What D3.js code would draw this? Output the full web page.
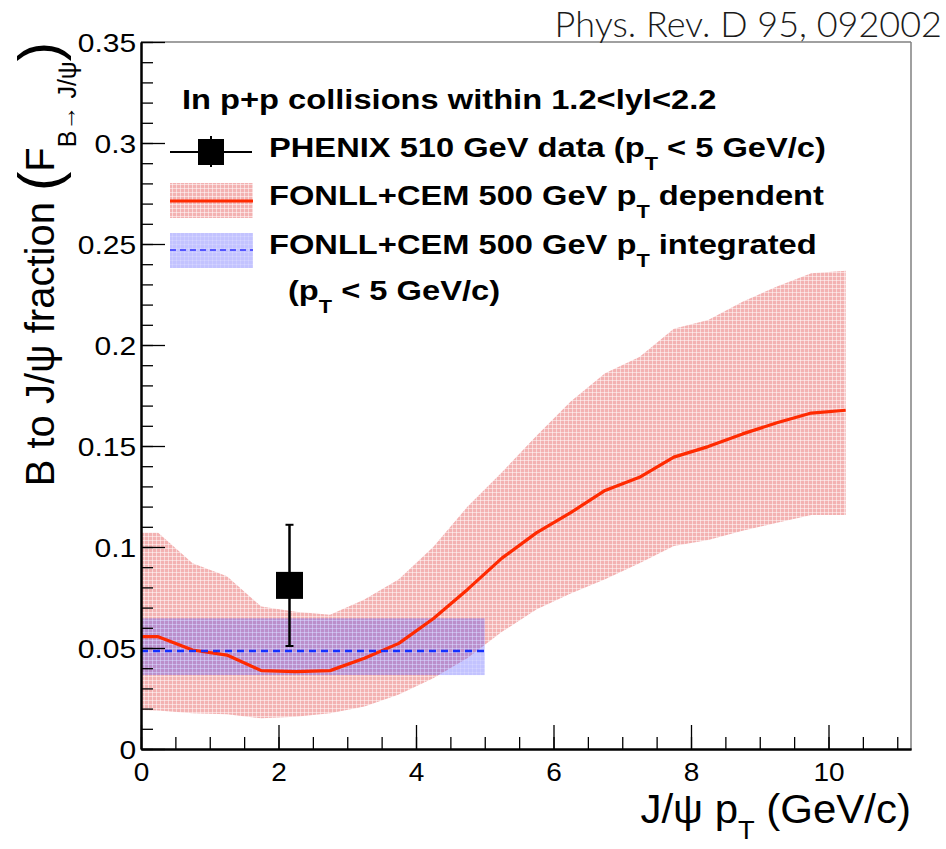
<!DOCTYPE html>
<html>
<head>
<meta charset="utf-8">
<script src="https://cdn.jsdelivr.net/npm/d3@7"></script>
<style>
  html, body { margin: 0; padding: 0; background: #fff; }
  svg { display: block; }
</style>
</head>
<body>
<svg id="chart" width="946" height="849"></svg>
<script>
// J/psi pT bin centres (GeV/c) for the FONLL+CEM pT-dependent curve
const ptPoints   = [0, 0.25, 0.75, 1.25, 1.75, 2.25, 2.75, 3.25, 3.75, 4.25, 4.75, 5.25, 5.75, 6.25, 6.75, 7.25, 7.75, 8.25, 8.75, 9.25, 9.75, 10.25];
const fonllCentral = [0.0556, 0.0556, 0.049, 0.0465, 0.0388, 0.0383, 0.0388, 0.0449, 0.0523, 0.0645, 0.079, 0.0945, 0.107, 0.117, 0.128, 0.1345, 0.1445, 0.1497, 0.156, 0.1615, 0.1663, 0.1677];
const fonllUpper   = [0.107, 0.107, 0.092, 0.0855, 0.0705, 0.068, 0.0665, 0.074, 0.084, 0.100, 0.120, 0.137, 0.155, 0.172, 0.186, 0.194, 0.208, 0.2124, 0.2214, 0.229, 0.2355, 0.2368];
const fonllLower   = [0.0193, 0.019, 0.0177, 0.0172, 0.0152, 0.016, 0.0177, 0.021, 0.027, 0.035, 0.045, 0.058, 0.069, 0.077, 0.084, 0.092, 0.1005, 0.1035, 0.108, 0.112, 0.1158, 0.1158];

// pT-integrated FONLL+CEM prediction (pT < 5 GeV/c)
const integratedRange = [0, 5];
const integratedValue = [0.0485];
const integratedBand  = [0.0366, 0.0647];

// PHENIX 510 GeV measurement
const dataPt    = [2.16];
const dataValue = [0.081];
const dataError = [0.030];

// Axis ticks
const xMajorTicks = [0, 2, 4, 6, 8, 10];
const xMinorTicks = [0, 0.5, 1, 1.5, 2, 2.5, 3, 3.5, 4, 4.5, 5, 5.5, 6, 6.5, 7, 7.5, 8, 8.5, 9, 9.5, 10, 10.5, 11];
const yMajorTicks = [0, 0.05, 0.1, 0.15, 0.2, 0.25, 0.3, 0.35];
const yMinorTicks = [0, 0.01, 0.02, 0.03, 0.04, 0.05, 0.06, 0.07, 0.08, 0.09, 0.1, 0.11, 0.12, 0.13, 0.14, 0.15, 0.16, 0.17, 0.18, 0.19, 0.2, 0.21, 0.22, 0.23, 0.24, 0.25, 0.26, 0.27, 0.28, 0.29, 0.3, 0.31, 0.32, 0.33, 0.34, 0.35];

(function () {
const svg = d3.select("#chart");
const pLeft = 141, pRight = 911, pTop = 42, pBottom = 749;

const x = d3.scaleLinear().domain([0, 11.2]).range([pLeft, pRight]);
const y = d3.scaleLinear().domain([0, 0.35]).range([pBottom, pTop]);

const FONT = "'Liberation Sans', Arial, Helvetica, sans-serif";

// Fill patterns imitating ROOT's fine hatch fill
const defs = svg.append("defs");
function hatch(id, base, baseOpacity) {
  const p = defs.append("pattern").attr("id", id)
    .attr("width", 4).attr("height", 4).attr("patternUnits", "userSpaceOnUse");
  p.append("rect").attr("width", 4).attr("height", 4).attr("fill", base).attr("fill-opacity", baseOpacity);
  p.append("rect").attr("x", 0).attr("y", 0).attr("width", 4).attr("height", 1).attr("fill", "#fff").attr("fill-opacity", 0.5 * baseOpacity);
  p.append("rect").attr("x", 0).attr("y", 0).attr("width", 1).attr("height", 4).attr("fill", "#fff").attr("fill-opacity", 0.5 * baseOpacity);
}
hatch("hatchRed", "rgb(243,178,178)", 1);
hatch("hatchBlue", "rgb(70,70,255)", 0.32);

defs.append("clipPath").attr("id", "plotClip")
  .append("rect").attr("x", pLeft).attr("y", pTop).attr("width", pRight - pLeft).attr("height", pBottom - pTop);

const plot = svg.append("g").attr("clip-path", "url(#plotClip)");

const bandData = ptPoints.map((p, i) => ({ pt: p, lo: fonllLower[i], hi: fonllUpper[i], c: fonllCentral[i] }));

// pT-dependent uncertainty band
plot.append("path")
  .datum(bandData)
  .attr("fill", "url(#hatchRed)")
  .attr("d", d3.area().x(d => x(d.pt)).y0(d => y(d.lo)).y1(d => y(d.hi)));

// pT-integrated band
plot.append("rect")
  .attr("x", x(integratedRange[0]))
  .attr("y", y(integratedBand[1]))
  .attr("width", x(integratedRange[1]) - x(integratedRange[0]))
  .attr("height", y(integratedBand[0]) - y(integratedBand[1]))
  .attr("fill", "url(#hatchBlue)");

// pT-dependent central curve
plot.append("path")
  .datum(bandData)
  .attr("fill", "none")
  .attr("stroke", "#ff2a00")
  .attr("stroke-width", 3.2)
  .attr("stroke-linejoin", "round")
  .attr("d", d3.line().x(d => x(d.pt)).y(d => y(d.c)));

// pT-integrated central value
plot.append("line")
  .attr("x1", x(integratedRange[0])).attr("x2", x(integratedRange[1]))
  .attr("y1", y(integratedValue[0])).attr("y2", y(integratedValue[0]))
  .attr("stroke", "#1530ff").attr("stroke-width", 2.5)
  .attr("stroke-dasharray", "7,5");

// Data point with error bar
const pts = dataPt.map((p, i) => ({ pt: p, v: dataValue[i], e: dataError[i] }));
const dp = svg.append("g").selectAll("g").data(pts).join("g");
dp.append("line")
  .attr("x1", d => x(d.pt)).attr("x2", d => x(d.pt))
  .attr("y1", d => y(d.v + d.e)).attr("y2", d => y(d.v - d.e))
  .attr("stroke", "#000").attr("stroke-width", 2.5);
dp.append("line")
  .attr("x1", d => x(d.pt) - 4).attr("x2", d => x(d.pt) + 4)
  .attr("y1", d => y(d.v + d.e)).attr("y2", d => y(d.v + d.e))
  .attr("stroke", "#000").attr("stroke-width", 2);
dp.append("line")
  .attr("x1", d => x(d.pt) - 4).attr("x2", d => x(d.pt) + 4)
  .attr("y1", d => y(d.v - d.e)).attr("y2", d => y(d.v - d.e))
  .attr("stroke", "#000").attr("stroke-width", 2);
dp.append("rect")
  .attr("x", d => x(d.pt) - 13.5).attr("y", d => y(d.v) - 13.5)
  .attr("width", 27).attr("height", 27)
  .attr("fill", "#000");

// Frame: top and right edges
svg.append("line").attr("x1", pLeft).attr("x2", pRight).attr("y1", pTop).attr("y2", pTop)
  .attr("stroke", "#808080").attr("stroke-width", 1.5);
svg.append("line").attr("x1", pRight).attr("x2", pRight).attr("y1", pTop).attr("y2", pBottom)
  .attr("stroke", "#808080").attr("stroke-width", 1.5);

// Axes with inward ticks
function styleAxis(g) {
  g.selectAll("path.domain").attr("stroke", "#000").attr("stroke-width", 2);
  g.selectAll(".tick line").attr("stroke", "#000").attr("stroke-width", 1.3);
  g.selectAll("text").attr("font-family", FONT).attr("fill", "#000");
}

const xMinor = svg.append("g").attr("transform", `translate(0,${pBottom})`)
  .call(d3.axisBottom(x).tickValues(xMinorTicks).tickSize(-12).tickSizeOuter(0).tickFormat(""));
styleAxis(xMinor);
const xMajor = svg.append("g").attr("transform", `translate(0,${pBottom})`)
  .call(d3.axisBottom(x).tickValues(xMajorTicks).tickSize(-24).tickSizeOuter(0).tickPadding(14).tickFormat(d3.format("d")));
styleAxis(xMajor);
xMajor.selectAll("text").attr("font-size", 25).attr("transform", "scale(1.12,1)");

const yMinor = svg.append("g").attr("transform", `translate(${pLeft},0)`)
  .call(d3.axisLeft(y).tickValues(yMinorTicks).tickSize(-12).tickSizeOuter(0).tickFormat(""));
styleAxis(yMinor);
const yMajor = svg.append("g").attr("transform", `translate(${pLeft},0)`)
  .call(d3.axisLeft(y).tickValues(yMajorTicks).tickSize(-24).tickSizeOuter(0).tickPadding(4).tickFormat(d3.format("~g")));
styleAxis(yMajor);
yMajor.selectAll("text").attr("font-size", 25).attr("dy", "0.36em").attr("transform", "scale(1.2,1)");

// Axis titles
const xt = svg.append("text")
  .attr("transform", `translate(${pRight},823) scale(1.05,1)`)
  .attr("text-anchor", "end")
  .attr("font-family", FONT).attr("font-size", 40).attr("fill", "#000");
xt.append("tspan").text("J/ψ p");
xt.append("tspan").attr("font-size", 26).attr("dy", 16).text("T");
xt.append("tspan").attr("dy", -16).text(" (GeV/c)");

const yt = svg.append("text")
  .attr("transform", `translate(54,${pTop}) rotate(-90)`)
  .attr("text-anchor", "end")
  .attr("font-family", FONT).attr("font-size", 40).attr("fill", "#000");
yt.append("tspan").text("B to J/ψ fraction ");
yt.append("tspan").attr("font-size", 58).attr("dy", 5).text("(");
yt.append("tspan").attr("dy", -5).text("F");
yt.append("tspan").attr("font-size", 25).attr("dy", 22).text("B→ J/ψ");
yt.append("tspan").attr("font-size", 58).attr("dy", -17).text(")");

// Legend
const lg = svg.append("g").attr("font-family", FONT).attr("font-weight", "bold").attr("fill", "#000");
function legendText(xp, yp, parts) {
  const t = lg.append("text")
    .attr("transform", `translate(${xp},${yp}) scale(1.21,1)`)
    .attr("font-size", 27);
  let shifted = 0;
  parts.forEach(([s, sub]) => {
    if (sub) {
      t.append("tspan").attr("font-size", 18).attr("dy", 13).text(s);
      shifted = 13;
    } else {
      t.append("tspan").attr("dy", -shifted).text(s);
      shifted = 0;
    }
  });
  return t;
}
legendText(182, 109, [["In p+p collisions within 1.2<lyl<2.2"]]);
legendText(269, 157, [["PHENIX 510 GeV data (p"], ["T", true], [" < 5 GeV/c)"]]);
legendText(269, 205, [["FONLL+CEM 500 GeV p"], ["T", true], [" dependent"]]);
legendText(269, 254, [["FONLL+CEM 500 GeV p"], ["T", true], [" integrated"]]);
legendText(288, 300, [["(p"], ["T", true], [" < 5 GeV/c)"]]);

// Legend symbols
const sym = svg.append("g");
sym.append("line").attr("x1", 170).attr("x2", 252).attr("y1", 152).attr("y2", 152).attr("stroke", "#000").attr("stroke-width", 2);
sym.append("line").attr("x1", 211).attr("x2", 211).attr("y1", 136).attr("y2", 167).attr("stroke", "#000").attr("stroke-width", 2);
sym.append("rect").attr("x", 198).attr("y", 139).attr("width", 26).attr("height", 26).attr("fill", "#000");
sym.append("rect").attr("x", 170).attr("y", 183).attr("width", 83).attr("height", 35).attr("fill", "url(#hatchRed)");
sym.append("line").attr("x1", 170).attr("x2", 253).attr("y1", 201).attr("y2", 201).attr("stroke", "#ff2a00").attr("stroke-width", 3);
sym.append("rect").attr("x", 170).attr("y", 233).attr("width", 83).attr("height", 35).attr("fill", "url(#hatchBlue)");
sym.append("line").attr("x1", 170).attr("x2", 253).attr("y1", 250).attr("y2", 250).attr("stroke", "#5555ff").attr("stroke-width", 2).attr("stroke-dasharray", "6,4");

// Publication reference
svg.append("text")
  .attr("x", 942).attr("y", 37)
  .attr("text-anchor", "end")
  .attr("font-family", "Lato, 'Open Sans', sans-serif").attr("font-weight", 300)
  .attr("font-size", 36).attr("fill", "#1a1a1a")
  .text("Phys. Rev. D 95, 092002");
})();
</script>
</body>
</html>
